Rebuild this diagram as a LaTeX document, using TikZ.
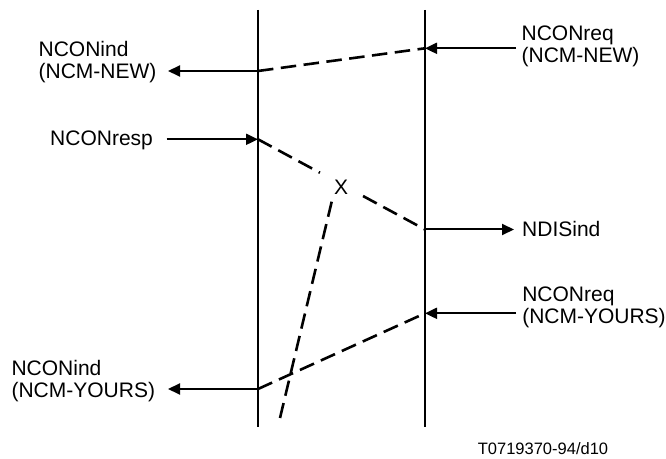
\documentclass[tikz,border=0pt]{standalone}
\usepackage{fontspec}
\setmainfont{Liberation Sans}
\usepackage{tikz}
\usetikzlibrary{arrows.meta,calc}

\begin{document}
\begin{tikzpicture}[>={Triangle[length=12bp,width=11bp]},line join=bevel,
  layer/.style={line width=2bp},
  msg/.style={line width=2bp,->},
  lost/.style={line width=2.6bp,dash pattern=on 15.5bp off 7.5bp},
  lbl/.style={inner sep=0pt,align=left,font=\fontsize{21bp}{22bp}\selectfont},
  ]
%%
\useasboundingbox (0bp,0bp) rectangle (666bp,459bp);
  \coordinate (Ltop) at (258bp,449bp);
  \coordinate (Lbot) at (258bp,32bp);
  \coordinate (Rtop) at (425bp,449bp);
  \coordinate (Rbot) at (425bp,32bp);
  \coordinate (r1) at (425bp,410.7bp);
  \coordinate (l1) at (258bp,388bp);
  \coordinate (l2) at (258bp,319.7bp);
  \coordinate (r2) at (425bp,229.5bp);
  \coordinate (r3) at (425bp,145.7bp);
  \coordinate (l3) at (258bp,70bp);
  \coordinate (req1) at (516bp,410.7bp);
  \coordinate (ind1) at (168bp,388bp);
  \coordinate (resp) at (166.5bp,319.7bp);
  \coordinate (dis) at (514bp,229.5bp);
  \coordinate (req2) at (516bp,145.7bp);
  \coordinate (ind2) at (168bp,70bp);
  \coordinate (lostA) at (331.7bp,257.3bp);
  \coordinate (lostB) at (280bp,41bp);
  \coordinate (xa) at ($(l2)!0.371!(r2)$);
  \coordinate (xb) at ($(l2)!0.629!(r2)$);
  \node (NCONind1) at (97.5bp,396.5bp) [lbl] {NCONind\\(NCM-NEW)};
  \node (NCONreq1) at (580.5bp,413bp) [lbl] {NCONreq\\(NCM-NEW)};
  \node (NCONresp) at (50bp,318.8bp) [lbl,anchor=west] {NCONresp};
  \node (NDISind) at (522bp,230bp) [lbl,anchor=west] {NDISind};
  \node (NCONreq2) at (594bp,151.5bp) [lbl] {NCONreq\\(NCM-YOURS)};
  \node (NCONind2) at (83.3bp,78bp) [lbl] {NCONind\\(NCM-YOURS)};
  \node (cross) at (341bp,272bp) [lbl] {X};
  \node (ref) at (543bp,10bp) [inner sep=0pt,font=\fontsize{16.5bp}{18bp}\selectfont] {T0719370-94/d10};
  \draw [layer] (Ltop) -- (Lbot);
  \draw [layer] (Rtop) -- (Rbot);
  \draw [msg] (req1) -- (r1);
  \draw [lost] (l1) -- (r1);
  \draw [msg] (l1) -- (ind1);
  \draw [msg] (resp) -- (l2);
  \draw [lost] (l2) -- (xa);
  \draw [lost] (xb) -- (r2);
  \draw [msg] (r2) -- (dis);
  \draw [lost] (lostA) -- (lostB);
  \draw [msg] (req2) -- (r3);
  \draw [lost] (l3) -- (r3);
  \draw [msg] (l3) -- (ind2);
%
\end{tikzpicture}
\end{document}
